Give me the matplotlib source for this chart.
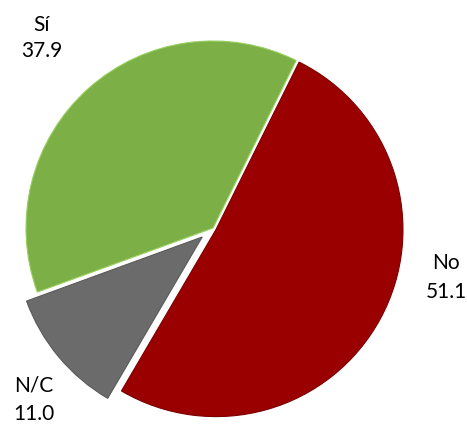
import matplotlib.pyplot as plt

# Chart data
categories = ['No', 'N/C', 'Sí']
values = [51.1, 11.0, 37.9]

colors = ['#9B0000', '#6B6B6B', '#7CAF45']
edge_colors = ['#7A0000', '#5A5A5A', '#98D060']
explode = [0.018, 0.075, 0.0]

W, H = 467, 424
R = 187.0          # pie radius in pixels
CX, CY = 213, 228  # pie centre in pixels (from top-left)

fig = plt.figure(figsize=(W / 100, H / 100), dpi=100)
ax = fig.add_axes([0, 0, 1, 1])

wedges, _ = ax.pie(values, colors=colors, explode=explode, startangle=63.6,
                   counterclock=False, radius=1.0)
for w, ec in zip(wedges, edge_colors):
    w.set_edgecolor(ec)
    w.set_linewidth(0.8)

ax.set_xlim(-CX / R, (W - CX) / R)
ax.set_ylim(-(H - CY) / R, CY / R)
ax.set_aspect('equal')
ax.axis('off')

# Label positions (pixels, centre of name / value lines)
label_pos = {'No': (446, 263, 292), 'N/C': (34, 385, 414), 'Sí': (42, 25, 51)}

for cat, val in zip(categories, values):
    x, y_name, y_val = label_pos[cat]
    fig.text(x / W, 1 - y_name / H, cat, ha='center', va='center',
             fontsize=15, family='Lato', color='black')
    fig.text(x / W, 1 - y_val / H, f'{val:.1f}', ha='center', va='center',
             fontsize=15, family='Lato', color='black')

fig.savefig('out.png', dpi=100, facecolor='white')
